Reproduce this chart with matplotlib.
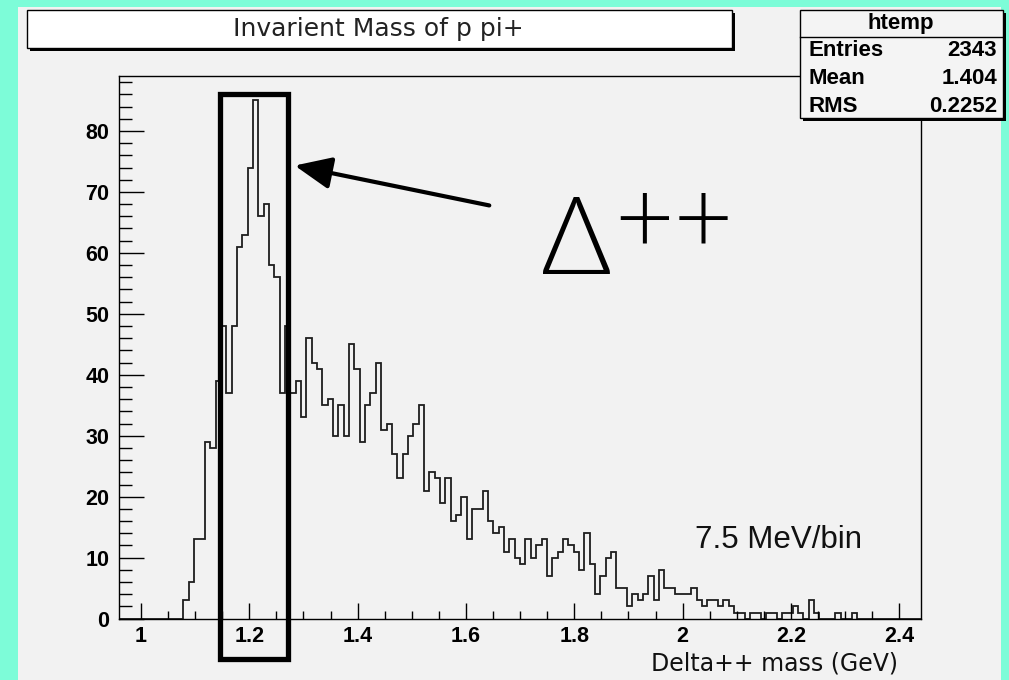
import numpy as np
import matplotlib
matplotlib.use("Agg")
import matplotlib.pyplot as plt
from matplotlib.patches import Rectangle, FancyArrowPatch
from matplotlib.ticker import MultipleLocator, FuncFormatter

# p pi+ invariant mass, 150 bins between 0.96 and 2.44 GeV
mass_lo = 0.96
mass_hi = 2.44
n_bins = 150
counts = [
    0, 0, 0, 0, 0, 0, 0, 0, 0, 0, 0, 0,
    3, 6, 13, 13, 29, 28, 39, 48, 37, 48,
    61, 63, 74, 85, 66, 68, 58, 56, 37, 48,
    37, 39, 33, 46, 42, 41, 35, 36, 30, 35,
    30, 45, 41, 29, 35, 37, 42, 31, 32, 27,
    23, 27, 30, 32, 35, 21, 24, 23, 19, 23,
    16, 17, 20, 13, 18, 18, 21, 16, 14, 15,
    11, 13, 10, 9, 13, 10, 12, 13, 7, 10,
    11, 13, 12, 11, 8, 14, 9, 4, 7, 10,
    11, 5, 5, 2, 4, 3, 4, 7, 3, 8,
    5, 5, 4, 4, 4, 5, 3, 2, 3, 3,
    2, 3, 2, 1, 1, 0, 1, 1, 0, 1,
    1, 0, 1, 1, 2, 1, 0, 3, 1, 0,
    0, 0, 1, 0, 0, 1, 0, 0, 0, 0,
    0, 0, 0, 0, 0, 0, 0, 0,
]

hist_name = "htemp"
stat_names = ["Entries", "Mean", "RMS"]
stat_values = ["2343", "1.404", "0.2252"]

title = "Invarient Mass of p pi+"
xlabel = "Delta++ mass (GeV)"
bin_note = "7.5 MeV/bin"

W, H = 1009, 680


def fx(px):
    return px / W


def fy(py):
    return 1 - py / H


fig = plt.figure(figsize=(W / 100, H / 100), dpi=100, facecolor="#7dfcd8")

# gray pad behind everything
fig.patches.append(Rectangle((fx(18), 0), fx(1001) - fx(18), fy(7),
                             transform=fig.transFigure, facecolor="#f2f2f2",
                             edgecolor="none", zorder=-10))

ax = fig.add_axes([fx(119.3), fy(618.6), (921 - 119.3) / W, (618.6 - 75.5) / H])
ax.set_facecolor("#f2f2f2")

edges = np.linspace(mass_lo, mass_hi, n_bins + 1)
ax.stairs(counts, edges, color="#1e1e1e", linewidth=1.3)

ax.set_xlim(mass_lo, mass_hi)
ax.set_ylim(0, 89.1)
ax.xaxis.set_major_locator(MultipleLocator(0.2))
ax.xaxis.set_minor_locator(MultipleLocator(0.05))
ax.yaxis.set_major_locator(MultipleLocator(10))
ax.yaxis.set_minor_locator(MultipleLocator(2))
ax.xaxis.set_major_formatter(FuncFormatter(lambda v, p: "%g" % round(v, 2)))

ax.tick_params(which="both", direction="in", top=False, right=False, width=1)
ax.tick_params(axis="y", which="major", length=18, pad=7)
ax.tick_params(axis="y", which="minor", length=9)
ax.tick_params(axis="x", which="major", length=11.5, pad=5)
ax.tick_params(axis="x", which="minor", length=5.8)
for lab in ax.get_xticklabels() + ax.get_yticklabels():
    lab.set_fontfamily("Liberation Sans")
    lab.set_fontweight("bold")
    lab.set_fontsize(15.5)
for sp in ax.spines.values():
    sp.set_linewidth(1)

fig.text(fx(898), fy(664), xlabel, ha="right", va="center",
         fontsize=17, family="DejaVu Sans", color="#111111")

# title box with shadow
fig.patches.append(Rectangle((fx(30), fy(51)), fx(732) - fx(27), fy(10) - fy(48),
                             transform=fig.transFigure, facecolor="black",
                             edgecolor="none", zorder=1))
fig.patches.append(Rectangle((fx(27), fy(48)), fx(732) - fx(27), fy(10) - fy(48),
                             transform=fig.transFigure, facecolor="white",
                             edgecolor="black", linewidth=1, zorder=2))
fig.text(fx(378), fy(29), title, ha="center", va="center",
         fontsize=18, family="DejaVu Sans", color="#222222", zorder=3)

# stats box
fig.patches.append(Rectangle((fx(803), fy(121)), fx(1003) - fx(800), fy(10) - fy(118),
                             transform=fig.transFigure, facecolor="black",
                             edgecolor="none", zorder=1))
fig.patches.append(Rectangle((fx(800), fy(118)), fx(1003) - fx(800), fy(10) - fy(118),
                             transform=fig.transFigure, facecolor="#f4f4f4",
                             edgecolor="black", linewidth=1, zorder=2))
fig.lines.append(plt.Line2D([fx(800), fx(1003)], [fy(37), fy(37)],
                            transform=fig.transFigure, color="black", lw=1, zorder=3))
fig.text(fx(901), fy(23), hist_name, ha="center", va="center", fontsize=16,
         family="Liberation Sans", weight="bold", zorder=4)
for i, (name, val) in enumerate(zip(stat_names, stat_values)):
    yy = 51 + 27.5 * i
    fig.text(fx(808), fy(yy), name, ha="left", va="center", fontsize=16,
             family="Liberation Sans", weight="bold", zorder=4)
    fig.text(fx(997), fy(yy), val, ha="right", va="center", fontsize=16,
             family="Liberation Sans", weight="bold", zorder=4)

# box around the Delta++ peak
fig.patches.append(Rectangle((fx(219.5), fy(658.5)), fx(287.5) - fx(219.5),
                             fy(93.5) - fy(658.5), transform=fig.transFigure,
                             fill=False, edgecolor="black", linewidth=3.8, zorder=5))

arrow = FancyArrowPatch((fx(492), fy(206)), (fx(292), fy(165)),
                        transform=fig.transFigure,
                        arrowstyle="-|>,head_length=1.6,head_width=0.7",
                        mutation_scale=14, color="black", lw=3, zorder=5)
fig.patches.append(arrow)

fig.text(fx(576), fy(244), "\u0394", ha="center", va="center", fontsize=78,
         family=["Lato", "DejaVu Sans"], fontweight=300, color="black")
fig.text(fx(674), fy(224), "++", ha="center", va="center", fontsize=74,
         family=["Lato", "DejaVu Sans"], fontweight=300, color="black")

fig.text(fx(695), fy(540), bin_note, ha="left", va="center", fontsize=22.5,
         family="Liberation Sans", color="#111111")

fig.savefig("out.png", dpi=100, facecolor=fig.get_facecolor())
